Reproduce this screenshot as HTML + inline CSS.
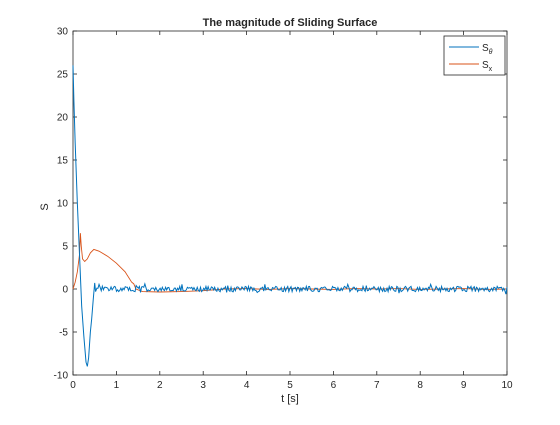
<!DOCTYPE html>
<html><head><meta charset="utf-8"><style>
body{margin:0;background:#fff}
svg text{font-family:"Liberation Sans",sans-serif;fill:#262626}
</style></head><body>
<svg width="560" height="420">
<rect x="0" y="0" width="560" height="420" fill="#fff"/>
<rect x="73" y="31" width="434" height="344" fill="#fff" stroke="#262626" stroke-width="0.8"/>
<g id="ticks"></g>
<g id="series"></g>
<text x="290" y="26" font-size="11" font-weight="bold" text-anchor="middle">The magnitude of Sliding Surface</text>
<text x="290" y="402" font-size="11" text-anchor="middle">t [s]</text>
<text x="48" y="207" font-size="11" text-anchor="middle" transform="rotate(-90 48 207)">S</text>
<g>
<rect x="444" y="36" width="61" height="39" fill="#fff" stroke="#262626" stroke-width="0.8"/>
<line x1="449" y1="47" x2="479" y2="47" stroke="#0072bd"/>
<text x="482" y="51" font-size="10">S<tspan font-size="7" dy="3" font-style="italic">θ</tspan></text>
<line x1="449" y1="64" x2="479" y2="64" stroke="#d95319"/>
<text x="482" y="68" font-size="10">S<tspan font-size="7" dy="3">x</tspan></text>
</g>
</svg>
<script>
const xTicks=[0,1,2,3,4,5,6,7,8,9,10];
const yTicks=[-10,-5,0,5,10,15,20,25,30];
const blueT=[0,0.02,0.05,0.1,0.15,0.2,0.25,0.3,0.33,0.36,0.4,0.43,0.47,0.5,0.52];
const blueV=[26,22,17,10,4,-2,-5.5,-8.5,-9,-8,-5,-3.5,-1,0.7,-0.3];
const blueNoise=[0.1,-0.2,0.2,-0.1,0.3,-0.3,0.1,0.2,-0.2,0.4,-0.4,0.6,-0.2,0.1,-0.3,0.2,-0.1,-0.2,0.1,0.3,-0.2,0.1,-0.1,0.2,-0.3,0.3,-0.1,0.2,-0.2,0.1,0.4,-0.3,0.2,-0.1,0.3,-0.2,0.1,-0.3,0.2,0.1,-0.2,0.3,-0.1,0.2,-0.3,0.1,0.2,-0.2,0.3,-0.1,0.1,-0.3,0.2,-0.1,0.3,-0.2,0.1,0.2,-0.3,0.2,-0.1,0.3,-0.2,0.1,-0.1,0.2,-0.3,0.3,-0.1,0.2,-0.2,0.1,0.3,-0.3,0.2,-0.1,0.2,-0.2,0.1,0.3,-0.2,0.1,-0.3,0.2,-0.1,0.3,-0.2,0.2,-0.1,0.1,-0.3,0.2,0.1,-0.2,0.2];
const orangeT=[0,0.05,0.1,0.15,0.17,0.19,0.22,0.27,0.33,0.4,0.48,0.6,0.8,1.0,1.2,1.35,1.4,1.45,1.6,2,2.5,3,3.5,4,4.5,5,5.5,6,6.5,7,7.5,8,8.5,9,9.5,10];
const orangeV=[0,0.8,2,4,6.5,5,3.5,3.2,3.5,4.2,4.6,4.4,3.8,3,2,0.8,0.6,0,-0.3,-0.35,-0.3,-0.2,0,0.05,-0.05,0.05,0,-0.05,0.05,0,0.05,-0.05,0,0.05,-0.05,0];
const X=t=>73+t*43.4, Y=v=>289-v*8.6;
const ns="http://www.w3.org/2000/svg";
const tg=document.getElementById('ticks');
function mk(tag,attrs,parent){const e=document.createElementNS(ns,tag);for(const k in attrs)e.setAttribute(k,attrs[k]);parent.appendChild(e);return e;}
xTicks.forEach(t=>{
 let l=mk('line',{x1:X(t),x2:X(t),y1:375,y2:371,stroke:'#262626','stroke-width':0.8},tg);
 
 
 let l2=mk('line',{x1:X(t),x2:X(t),y1:31,y2:35,stroke:'#262626','stroke-width':0.8},tg);
 
 
 let tx=mk('text',{x:X(t),y:388,'font-size':10,'text-anchor':'middle'},tg);tx.textContent=t;
 
 
});
yTicks.forEach(v=>{
 let l=mk('line',{x1:73,x2:77,y1:Y(v),y2:Y(v),stroke:'#262626','stroke-width':0.8},tg);
 
 
 let l2=mk('line',{x1:503,x2:507,y1:Y(v),y2:Y(v),stroke:'#262626','stroke-width':0.8},tg);
 
 
 let tx=mk('text',{x:68,y:Y(v)+3.5,'font-size':10,'text-anchor':'end'},tg);tx.textContent=v;
 
 
});
const sg=document.getElementById('series');
let op=orangeT.map((t,i)=>X(t)+','+Y(orangeV[i])).join(' ');
let o=mk('polyline',{points:op,fill:'none',stroke:'#d95319','stroke-width':0.9},sg);


let bt=blueT.slice(),bv=blueV.slice();
const n=blueNoise.length;
const step=(10-0.55)/(n-1);
blueNoise.forEach((v,i)=>{
 bt.push(0.55+i*step);bv.push(v);
 bt.push(0.55+(i+0.25)*step);bv.push(-blueNoise[(i*7+3)%n]*0.8);
 bt.push(0.55+(i+0.5)*step);bv.push(blueNoise[(i*5+11)%n]*0.9);
 bt.push(0.55+(i+0.75)*step);bv.push(-blueNoise[(i*3+17)%n]);
});
let pts=[];bt.forEach((t,i)=>{if(t<=10)pts.push(X(t)+','+Y(bv[i]));});
let b=mk('polyline',{points:pts.join(' '),fill:'none',stroke:'#0072bd','stroke-width':1},sg);


</script>
</body></html>
